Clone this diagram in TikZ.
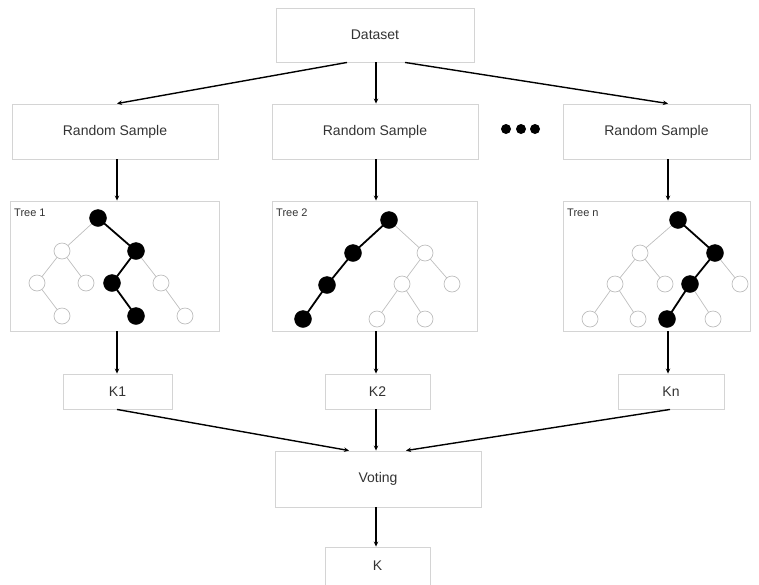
\documentclass[tikz,border=0pt]{standalone}
\usepackage{fontspec}
\setmainfont{Liberation Sans}
\usetikzlibrary{arrows.meta}
\definecolor{boxgray}{HTML}{D4D4D4}
\definecolor{txtgray}{HTML}{333333}
\definecolor{edgegray}{HTML}{BEBEBE}
\begin{document}
\begin{tikzpicture}[x=1pt,y=-1pt,
  box/.style={draw=boxgray,line width=0.9pt,rectangle,inner sep=0pt,text=txtgray,font=\fontsize{14}{16}\selectfont},
  arr/.style={-{Stealth[length=5pt,width=4.5pt]},line width=1.4pt,black},
  en/.style={circle,draw=edgegray,fill=white,line width=0.7pt,minimum size=16pt,inner sep=0pt},
  fn/.style={circle,draw=black,fill=black,minimum size=17pt,inner sep=0pt},
  le/.style={draw=edgegray,line width=0.7pt},
  be/.style={draw=black,line width=1.8pt},
  tlabel/.style={anchor=west,text=txtgray,font=\fontsize{11}{13}\selectfont,inner sep=0pt}]
\useasboundingbox (0,0) rectangle (759,584);
% boxes
\node[box,minimum width=198pt,minimum height=54pt] (data) at (375,35) {Dataset};
\node[box,minimum width=206pt,minimum height=55pt] (rs1) at (115,131.5) {Random Sample};
\node[box,minimum width=206pt,minimum height=55pt] (rs2) at (375,131.5) {Random Sample};
\node[box,minimum width=187pt,minimum height=55pt] (rs3) at (656.5,131.5) {Random Sample};
\node[box,minimum width=209pt,minimum height=130pt] (t1) at (114.5,266) {};
\node[box,minimum width=205pt,minimum height=130pt] (t2) at (374.5,266) {};
\node[box,minimum width=187pt,minimum height=130pt] (t3) at (656.5,266) {};
\node[box,minimum width=109pt,minimum height=35pt] (k1) at (117.5,391.5) {K1};
\node[box,minimum width=105pt,minimum height=35pt] (k2) at (377.5,391.5) {K2};
\node[box,minimum width=106pt,minimum height=35pt] (k3) at (671,391.5) {Kn};
\node[box,minimum width=206pt,minimum height=56pt] (vote) at (378,479) {Voting};
\node[box,minimum width=105pt,minimum height=38pt] (kk) at (377.5,566) {K};
% dots
\fill (506,129) circle (5pt) (521,129) circle (5pt) (535,129) circle (5pt);
% column coordinates
\coordinate (c1) at (117,0);
\coordinate (c2) at (376,0);
\coordinate (c3) at (668,0);
\coordinate (d1) at (347,0);
\coordinate (d3) at (405,0);
\coordinate (v1) at (349,0);
\coordinate (v3) at (406,0);
\coordinate (kc3) at (670,0);
% arrows
\draw[arr] (data.south -| d1) -- (rs1.north -| c1);
\draw[arr] (data.south -| c2) -- (rs2.north -| c2);
\draw[arr] (data.south -| d3) -- (rs3.north -| c3);
\draw[arr] (rs1.south -| c1) -- (t1.north -| c1);
\draw[arr] (rs2.south -| c2) -- (t2.north -| c2);
\draw[arr] (rs3.south -| c3) -- (t3.north -| c3);
\draw[arr] (t1.south -| c1) -- (k1.north -| c1);
\draw[arr] (t2.south -| c2) -- (k2.north -| c2);
\draw[arr] (t3.south -| c3) -- (k3.north -| c3);
\draw[arr] (k1.south -| c1) -- (vote.north -| v1);
\draw[arr] (k2.south -| c2) -- (vote.north -| c2);
\draw[arr] (k3.south -| kc3) -- (vote.north -| v3);
\draw[arr] (vote.south -| c2) -- (kk.north -| c2);
% labels
\node[tlabel] (l1) at (14,213) {Tree 1};
\node[tlabel] (l2) at (276,213) {Tree 2};
\node[tlabel] (l3) at (567,213) {Tree n};
% Tree 1
\coordinate (a1) at (98,218); \coordinate (a2) at (62,251); \coordinate (a3) at (136,251);
\coordinate (a4) at (37,283); \coordinate (a5) at (86,283); \coordinate (a6) at (112,283); \coordinate (a7) at (161,283);
\coordinate (a8) at (62,316); \coordinate (a9) at (136,316); \coordinate (a10) at (185,316);
\draw[le] (a1)--(a2) (a2)--(a4) (a2)--(a5) (a3)--(a7) (a4)--(a8) (a7)--(a10);
\draw[be] (a1)--(a3) (a3)--(a6) (a6)--(a9);
\foreach \n in {a2,a4,a5,a7,a8,a10} \node[en] (n\n) at (\n) {};
\foreach \n in {a1,a3,a6,a9} \node[fn] (n\n) at (\n) {};
% Tree 2
\coordinate (b1) at (389,220); \coordinate (b2) at (353,253); \coordinate (b3) at (425,253);
\coordinate (b4) at (327,285); \coordinate (b5) at (402,284); \coordinate (b6) at (452,284);
\coordinate (b7) at (303,319); \coordinate (b8) at (377,319); \coordinate (b9) at (425,319);
\draw[le] (b1)--(b3) (b3)--(b5) (b3)--(b6) (b5)--(b8) (b5)--(b9);
\draw[be] (b1)--(b2) (b2)--(b4) (b4)--(b7);
\foreach \n in {b3,b5,b6,b8,b9} \node[en] (n\n) at (\n) {};
\foreach \n in {b1,b2,b4,b7} \node[fn] (n\n) at (\n) {};
% Tree n
\coordinate (e1) at (678,220); \coordinate (e2) at (640,253); \coordinate (e3) at (715,253);
\coordinate (e4) at (615,284); \coordinate (e5) at (665,284); \coordinate (e6) at (690,284); \coordinate (e7) at (740,284);
\coordinate (e8) at (590,319); \coordinate (e9) at (638,319); \coordinate (e10) at (667,319); \coordinate (e11) at (713,319);
\draw[le] (e1)--(e2) (e2)--(e4) (e2)--(e5) (e3)--(e7) (e4)--(e8) (e4)--(e9) (e6)--(e11);
\draw[be] (e1)--(e3) (e3)--(e6) (e6)--(e10);
\foreach \n in {e2,e4,e5,e7,e8,e9,e11} \node[en] (n\n) at (\n) {};
\foreach \n in {e1,e3,e6,e10} \node[fn] (n\n) at (\n) {};
\end{tikzpicture}
\end{document}
